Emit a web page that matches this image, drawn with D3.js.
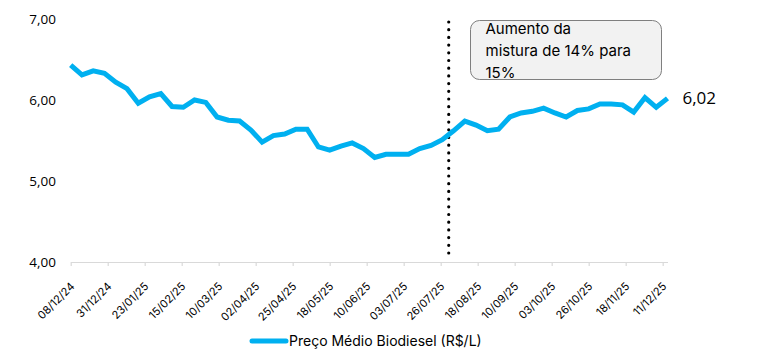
<!DOCTYPE html>
<html>
<head>
<meta charset="utf-8">
<script src="https://cdn.jsdelivr.net/npm/d3@7"></script>
<style>
  html, body { margin: 0; padding: 0; background: #ffffff; }
  svg { display: block; }
</style>
</head>
<body>
<div id="chart"></div>
<script>
// ---- data ----
const seriesName = "Preço Médio Biodiesel (R$/L)";
const startDate = "2024-12-08";            // first weekly observation
const prices = [
  6.43, 6.31, 6.36, 6.33, 6.22, 6.14, 5.96, 6.04, 6.08, 5.92,
  5.91, 6.00, 5.97, 5.79, 5.75, 5.74, 5.63, 5.48, 5.56, 5.58,
  5.64, 5.64, 5.42, 5.38, 5.43, 5.47, 5.40, 5.29, 5.33, 5.33,
  5.33, 5.40, 5.44, 5.51, 5.62, 5.74, 5.69, 5.62, 5.64, 5.79,
  5.84, 5.86, 5.90, 5.84, 5.79, 5.87, 5.89, 5.95, 5.95, 5.94,
  5.85, 6.03, 5.91, 6.02
];
const endDate = "2025-12-14";
const xTickLabels = ["08/12/24","31/12/24","23/01/25","15/02/25","10/03/25","02/04/25",
  "25/04/25","18/05/25","10/06/25","03/07/25","26/07/25","18/08/25","10/09/25",
  "03/10/25","26/10/25","18/11/25","11/12/25"];
const yTicks = [4, 5, 6, 7];
const eventDate = "2025-07-31";
const annotationLines = ["Aumento da", "mistura de 14% para", "15%"];
const lastLabel = "6,02";

// ---- layout ----
const W = 764, H = 357;
const svg = d3.select("#chart").append("svg").attr("width", W).attr("height", H);

const parseISO = d3.utcParse("%Y-%m-%d");
const parseTick = d3.utcParse("%d/%m/%y");
const data = prices.map((v, i) => ({ date: d3.utcDay.offset(parseISO(startDate), 7 * i), value: v }));

const x = d3.scaleUtc().domain([parseISO(startDate), parseISO(endDate)]).range([70.7, 667.5]);
const y = d3.scaleLinear().domain([4, 7]).range([262, 19]);

const fmt = d3.formatLocale({ decimal: ",", thousands: ".", grouping: [3], currency: ["R$", ""] }).format(".2f");

// y labels (no axis line)
svg.append("g").selectAll("text").data(yTicks).join("text")
  .attr("x", 56).attr("y", d => y(d)).attr("dy", "0.35em")
  .attr("text-anchor", "end")
  .style("font-family", "'Open Sans', sans-serif").style("font-size", "13.5px").attr("fill", "#000")
  .text(d => fmt(d));

// x axis
const xAxis = d3.axisBottom(x)
  .tickValues(xTickLabels.map(parseTick))
  .tickFormat(d3.utcFormat("%d/%m/%y"))
  .tickSizeInner(4).tickSizeOuter(0);
const gx = svg.append("g").attr("transform", `translate(0,${y(4)})`).call(xAxis);
gx.select(".domain").attr("stroke", "#d9d9d9").attr("stroke-width", 1.2);
gx.selectAll(".tick line").attr("stroke", "#d9d9d9").attr("stroke-width", 1.2);
gx.selectAll(".tick text")
  .attr("text-anchor", "end")
  .attr("x", 0).attr("y", 0).attr("dy", 0)
  .attr("transform", "translate(4,25) rotate(-45)")
  .style("font-family", "Inter, sans-serif").style("font-size", "11px").attr("fill", "#000");

// event dotted line
svg.append("line")
  .attr("x1", x(parseISO(eventDate))).attr("x2", x(parseISO(eventDate)))
  .attr("y1", 22).attr("y2", 258)
  .attr("stroke", "#000").attr("stroke-width", 3.2)
  .attr("stroke-linecap", "round").attr("stroke-dasharray", "0 7.7");

// line
const line = d3.line().x(d => x(d.date)).y(d => y(d.value));
svg.append("path").datum(data)
  .attr("d", line).attr("fill", "none")
  .attr("stroke", "#00b0f0").attr("stroke-width", 5)
  .attr("stroke-linejoin", "miter").attr("stroke-linecap", "butt");

// last value label
const last = data[data.length - 1];
svg.append("text").attr("x", x(last.date) + 15).attr("y", y(last.value)).attr("dy", "0.35em")
  .style("font-family", "'Open Sans', sans-serif").style("font-size", "17px").attr("fill", "#000")
  .text(lastLabel);

// annotation box
const bx = 470.5, by = 20.5, bw = 191, bh = 59;
svg.append("clipPath").attr("id", "annClip").append("rect")
  .attr("x", bx).attr("y", by).attr("width", bw).attr("height", bh).attr("rx", 9);
svg.append("rect").attr("x", bx).attr("y", by).attr("width", bw).attr("height", bh).attr("rx", 9)
  .attr("fill", "#f2f2f2").attr("stroke", "#7f7f7f").attr("stroke-width", 1);
svg.append("g").attr("clip-path", "url(#annClip)").selectAll("text").data(annotationLines).join("text")
  .attr("x", 485.5).attr("y", (d, i) => 34 + i * 21.8)
  .style("font-family", "Inter, sans-serif").style("font-size", "15px").attr("fill", "#000")
  .text(d => d);

// legend
const lg = svg.append("g");
lg.append("line").attr("x1", 252).attr("x2", 286).attr("y1", 341).attr("y2", 341)
  .attr("stroke", "#00b0f0").attr("stroke-width", 5).attr("stroke-linecap", "round");
lg.append("text").attr("x", 289).attr("y", 341).attr("dy", "0.35em")
  .style("font-family", "Inter, sans-serif").style("font-size", "14px").attr("fill", "#000")
  .text(seriesName);
</script>
</body>
</html>
